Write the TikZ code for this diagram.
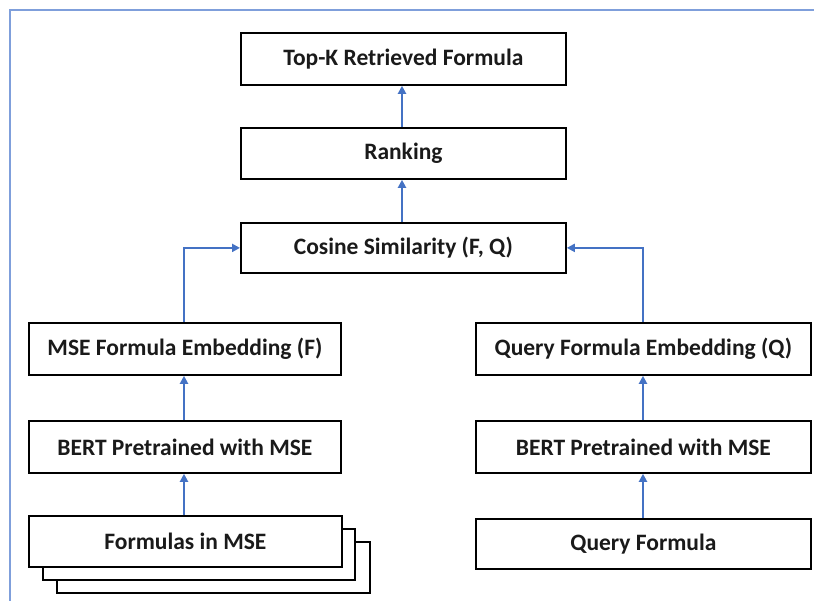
\documentclass[tikz,border=0pt]{standalone}
\usepackage{fontspec}
\setmainfont{Carlito}
\usetikzlibrary{arrows.meta}
\definecolor{arrowblue}{HTML}{4472C4}
\definecolor{frameblue}{HTML}{7F9FDB}
\definecolor{txt}{HTML}{1A1A1A}
\tikzset{
  box/.style={draw=black, line width=1.8pt, fill=white, inner sep=0pt, text=txt, font=\bfseries\fontsize{23.5}{26}\selectfont, anchor=north west},
  conn/.style={draw=arrowblue, line width=2.2pt, -{Triangle[length=8pt,width=8pt]}},
}
\begin{document}
\begin{tikzpicture}[x=1pt,y=-1pt]
\useasboundingbox (0,0) rectangle (822,601);
\draw[frameblue, line width=1.2pt] (10,601) -- (10,10) -- (814,10);
% boxes
\node[box, minimum width=325pt, minimum height=52pt] (top) at (240,32) {Top-K Retrieved Formula};
\node[box, minimum width=325pt, minimum height=51pt] (rank) at (240,127) {Ranking};
\node[box, minimum width=325pt, minimum height=50pt] (cos) at (240,222) {Cosine Similarity (F, Q)};
\node[box, minimum width=312pt, minimum height=52pt] (mse) at (28,322) {MSE Formula Embedding (F)};
\node[box, minimum width=335pt, minimum height=52pt] (qemb) at (475,322) {Query Formula Embedding (Q)};
\node[box, minimum width=312pt, minimum height=52pt] (bertl) at (28,420) {BERT Pretrained with MSE};
\node[box, minimum width=335pt, minimum height=52pt] (bertr) at (475,420) {BERT Pretrained with MSE};
\node[box, minimum width=313pt, minimum height=51pt] (f3) at (56,541) {};
\node[box, minimum width=312pt, minimum height=51pt] (f2) at (42,528) {};
\node[box, minimum width=313pt, minimum height=51pt] (forms) at (28,515) {Formulas in MSE};
\node[box, minimum width=335pt, minimum height=50pt] (query) at (475,518) {Query Formula};
% connectors
\draw[conn] (rank.north -| 402,0) -- (top.south -| 402,0);
\draw[conn] (cos.north -| 402,0) -- (rank.south -| 402,0);
\draw[conn] (mse.north -| 184,0) |- (cos.west);
\draw[conn] (qemb.north -| 643,0) |- (cos.east);
\draw[conn] (bertl.north -| 184,0) -- (mse.south -| 184,0);
\draw[conn] (bertr.north -| 643,0) -- (qemb.south -| 643,0);
\draw[conn] (forms.north -| 184,0) -- (bertl.south -| 184,0);
\draw[conn] (query.north -| 643,0) -- (bertr.south -| 643,0);
\end{tikzpicture}
\end{document}
